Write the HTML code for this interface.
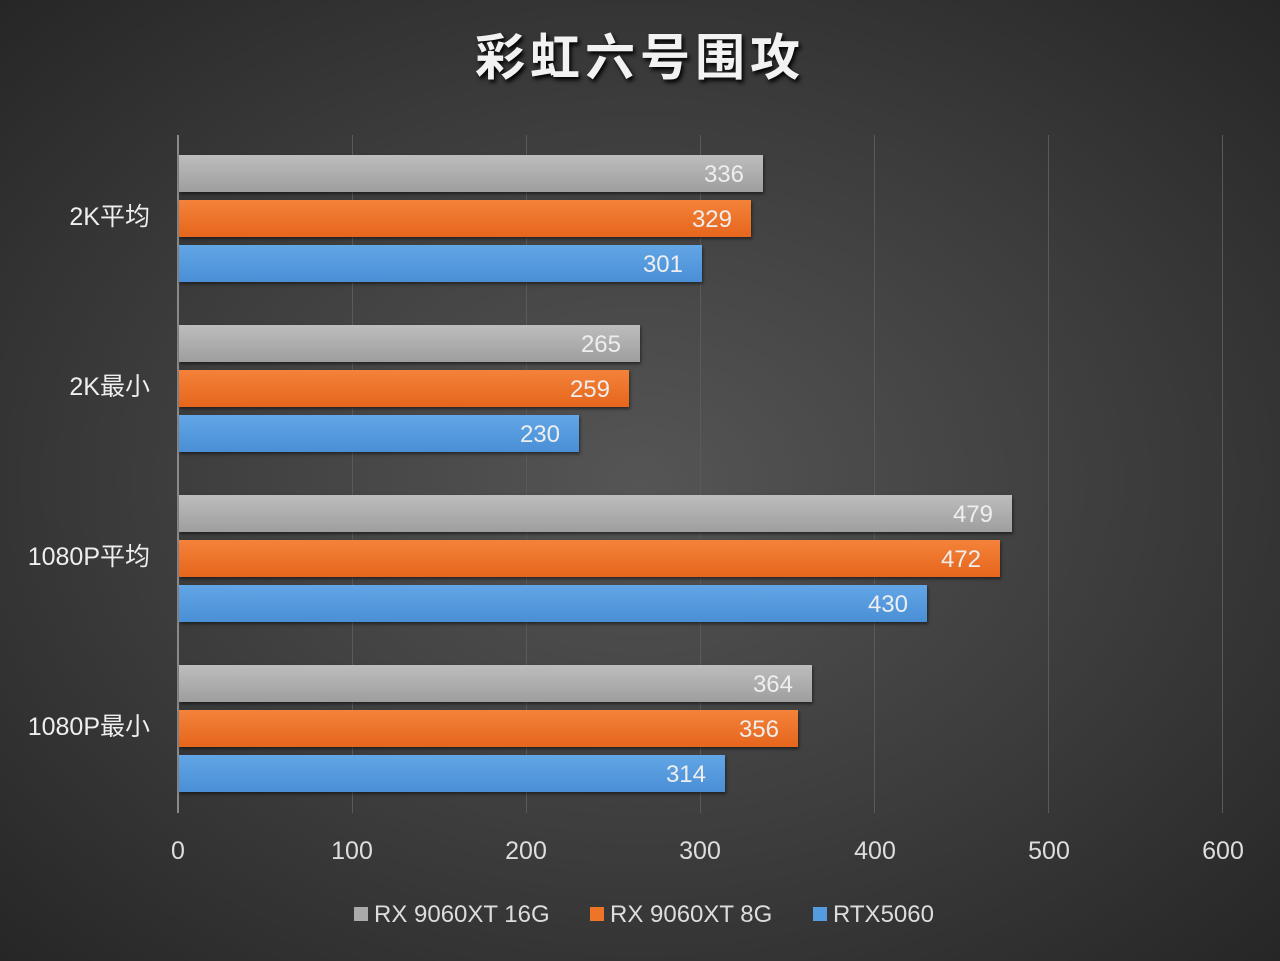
<!DOCTYPE html>
<html><head><meta charset="utf-8"><style>
body{margin:0;width:1280px;height:961px;overflow:hidden;background:radial-gradient(ellipse at 50% 50%,#555 0%,#3c3c3c 55%,#262626 100%);font-family:"Liberation Sans","Noto Sans CJK SC",sans-serif;color:#fff;position:relative}
.t{position:absolute;left:0;width:1280px;top:18px;text-align:center;font-size:50px;font-weight:bold;letter-spacing:5px;text-shadow:2px 3px 4px #000;color:#f2f2f2}
.g{position:absolute;top:135px;height:678px;width:1px;background:#5a5a5a}
.ax{position:absolute;left:177px;top:135px;height:678px;width:2px;background:#8a8a8a}
.b{position:absolute;left:179px;height:37px;box-shadow:1px 2px 3px rgba(0,0,0,.5)}
.b span{position:absolute;right:19px;top:6px;font-size:24px;color:#eee}
.gr{background:linear-gradient(#bdbdbd,#9e9e9e)}
.or{background:linear-gradient(#f5823a,#e5661c)}
.bl{background:linear-gradient(#62a6e6,#4a8fd6)}
.c{position:absolute;font-size:25px;color:#eee}
.x{position:absolute;top:837px;font-size:25px;color:#ddd;width:80px;text-align:center;margin-left:-40px}
.lg{position:absolute;top:901px;font-size:24px;color:#ddd}
.lg i{display:inline-block;width:14px;height:14px;margin-right:6px;vertical-align:1px}
</style></head><body>
<div class="t">彩虹六号围攻</div>
<div class="g" style="left:352px"></div><div class="g" style="left:526px"></div><div class="g" style="left:700px"></div><div class="g" style="left:874px"></div><div class="g" style="left:1048px"></div><div class="g" style="left:1222px"></div>
<div class="ax"></div>
<div class="b gr" style="top:155px;width:584px"><span>336</span></div>
<div class="b or" style="top:200px;width:572px"><span>329</span></div>
<div class="b bl" style="top:245px;width:523px"><span>301</span></div>
<div class="b gr" style="top:325px;width:461px"><span>265</span></div>
<div class="b or" style="top:370px;width:450px"><span>259</span></div>
<div class="b bl" style="top:415px;width:400px"><span>230</span></div>
<div class="b gr" style="top:495px;width:833px"><span>479</span></div>
<div class="b or" style="top:540px;width:821px"><span>472</span></div>
<div class="b bl" style="top:585px;width:748px"><span>430</span></div>
<div class="b gr" style="top:665px;width:633px"><span>364</span></div>
<div class="b or" style="top:710px;width:619px"><span>356</span></div>
<div class="b bl" style="top:755px;width:546px"><span>314</span></div>
<div class="c" style="right:1130px;top:197px">2K平均</div>
<div class="c" style="right:1130px;top:367px">2K最小</div>
<div class="c" style="right:1130px;top:537px">1080P平均</div>
<div class="c" style="right:1130px;top:707px">1080P最小</div>
<div class="x" style="left:178px">0</div><div class="x" style="left:352px">100</div><div class="x" style="left:526px">200</div><div class="x" style="left:700px">300</div><div class="x" style="left:875px">400</div><div class="x" style="left:1049px">500</div><div class="x" style="left:1223px">600</div>
<div class="lg" style="left:354px"><i style="background:#aaa"></i>RX 9060XT 16G</div>
<div class="lg" style="left:590px"><i style="background:#ee7427"></i>RX 9060XT 8G</div>
<div class="lg" style="left:813px"><i style="background:#559be0"></i>RTX5060</div>
</body></html>
